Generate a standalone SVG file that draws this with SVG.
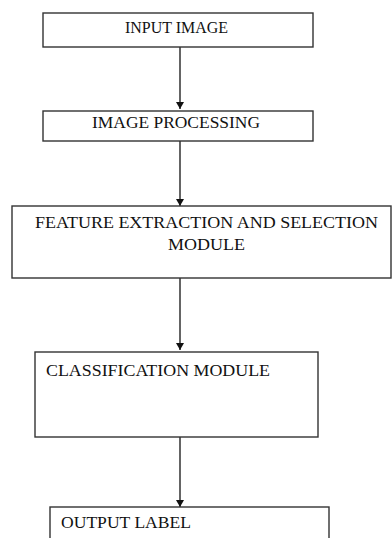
<svg xmlns="http://www.w3.org/2000/svg" width="392" height="538" viewBox="0 0 392 538">
<style>
.box{fill:#fff;stroke:#333;stroke-width:1.4}
.lbl{font-family:"Liberation Serif","Times New Roman",serif;font-size:17px;fill:#111}
.conn{stroke:#111;stroke-width:1.3;fill:none;marker-end:url(#ah)}
</style>
<defs>
<marker id="ah" markerWidth="8" markerHeight="8" refX="7" refY="4" orient="auto" markerUnits="userSpaceOnUse">
<path d="M0,0 L7,4 L0,8 Z" fill="#111"/>
</marker>
</defs>
<rect width="392" height="538" fill="#fff"/>
<g id="connectors">
<line class="conn" x1="180" y1="44" x2="180" y2="109"/>
<line class="conn" x1="180" y1="141" x2="180" y2="206"/>
<line class="conn" x1="180" y1="278" x2="180" y2="350"/>
<line class="conn" x1="180" y1="437" x2="180" y2="507"/>
</g>
<g id="n1">
<rect class="box" x="43" y="13" width="270" height="34"/>
<text class="lbl" x="125" y="33" textLength="103" lengthAdjust="spacingAndGlyphs">INPUT IMAGE</text>
</g>
<g id="n2">
<rect class="box" x="43" y="111" width="270" height="30"/>
<text class="lbl" x="92" y="128" textLength="168" lengthAdjust="spacingAndGlyphs">IMAGE PROCESSING</text>
</g>
<g id="n3">
<rect class="box" x="12" y="206" width="379" height="72"/>
<text class="lbl" x="35" y="228" textLength="343" lengthAdjust="spacingAndGlyphs">FEATURE EXTRACTION AND SELECTION</text>
<text class="lbl" x="168" y="250" textLength="77" lengthAdjust="spacingAndGlyphs">MODULE</text>
</g>
<g id="n4">
<rect class="box" x="35" y="352" width="283" height="85"/>
<text class="lbl" x="46" y="376" textLength="224" lengthAdjust="spacingAndGlyphs">CLASSIFICATION MODULE</text>
</g>
<g id="n5">
<rect class="box" x="50" y="507" width="279" height="40"/>
<text class="lbl" x="61" y="528" textLength="130" lengthAdjust="spacingAndGlyphs">OUTPUT LABEL</text>
</g>
</svg>
